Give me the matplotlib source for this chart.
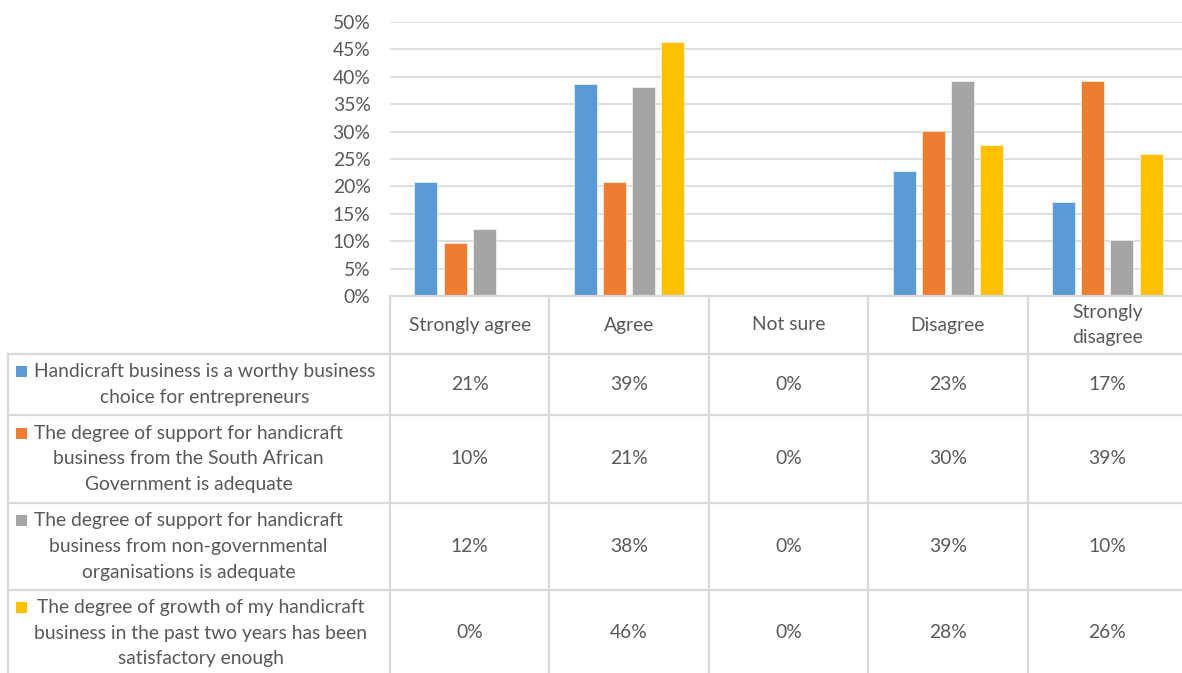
import numpy as np
import matplotlib
matplotlib.use("Agg")
import matplotlib.pyplot as plt
from matplotlib.patches import Rectangle

# ── data ────────────────────────────────────────────────────────────────────
categories = ["Strongly agree", "Agree", "Not sure", "Disagree", "Strongly\ndisagree"]
series_labels = [
    "Handicraft business is a worthy business\nchoice for entrepreneurs",
    "The degree of support for handicraft\nbusiness from the South African\nGovernment is adequate",
    "The degree of support for handicraft\nbusiness from non-governmental\norganisations is adequate",
    "The degree of growth of my handicraft\nbusiness in the past two years has been\nsatisfactory enough",
]
worthy_choice = [20.8, 38.7, 0.0, 22.9, 17.2]
support_government = [9.7, 20.8, 0.0, 30.1, 39.2]
support_ngo = [12.2, 38.2, 0.0, 39.2, 10.2]
growth_satisfactory = [0.0, 46.4, 0.0, 27.6, 26.0]
series = [worthy_choice, support_government, support_ngo, growth_satisfactory]
colors = ["#5b9bd5", "#ed7d31", "#a5a5a5", "#ffc000"]
yticks = np.arange(0, 51, 5)

plt.rcParams["font.family"] = ["Lato", "DejaVu Sans"]
TXT = "#595959"
LINE = "#d9d9d9"
FS = 13.9
LS = 1.62

W, H = 1182, 673
fig = plt.figure(figsize=(W / 100, H / 100), dpi=100)

# table geometry (pixels)
plot_l, plot_r, plot_t, plot_b = 390, 1187, 22, 296
tab_l = 8
row_edges = [354, 415, 503, 590, 700]

# overlay axes in pixel coordinates for the data table
tab = fig.add_axes([0, 0, 1, 1], zorder=0)
tab.set_xlim(0, W)
tab.set_ylim(H, 0)
tab.axis("off")

# bar chart
ax = fig.add_axes([plot_l / W, (H - plot_b) / H,
                   (plot_r - plot_l) / W, (plot_b - plot_t) / H], zorder=1)
ax.patch.set_alpha(0)
n = len(categories)
x = np.arange(n)
bw, step = 0.144, 0.183
for i, (vals, c) in enumerate(zip(series, colors)):
    ax.bar(x + (i - 1.5) * step, vals, width=bw, color=c,
           edgecolor="white", linewidth=0.4, zorder=3)

ax.set_xlim(-0.5, n - 0.5)
ax.set_ylim(0, 50)
ax.set_yticks(yticks)
ax.set_yticklabels([f"{v}%" for v in yticks], color=TXT, fontsize=FS)
ax.tick_params(axis="y", length=0, pad=14)
ax.set_xticks([])
ax.grid(axis="y", color=LINE, linewidth=1.2, zorder=0)
for s in ["top", "right", "left"]:
    ax.spines[s].set_visible(False)
ax.spines["bottom"].set_color(LINE)
ax.spines["bottom"].set_linewidth(1.6)
ax.spines["bottom"].set_zorder(4)

# ── data table ──────────────────────────────────────────────────────────────
col_w = (plot_r - plot_l) / n
col_edges = [plot_l + k * col_w for k in range(n + 1)]
lw = 1.6
for xe in col_edges:
    tab.plot([xe, xe], [plot_b, row_edges[-1]], color=LINE, lw=lw)
tab.plot([tab_l, tab_l], [row_edges[0], row_edges[-1]], color=LINE, lw=lw)
for ye in row_edges[:-1]:
    tab.plot([tab_l, plot_r], [ye, ye], color=LINE, lw=lw)

# header
for k, cat in enumerate(categories):
    tab.text(col_edges[k] + col_w / 2, (plot_b + row_edges[0]) / 2, cat,
             ha="center", va="center", color=TXT, fontsize=FS, linespacing=LS)

# rows
line_px = 26
for r, (lab, vals, c) in enumerate(zip(series_labels, series, colors)):
    y0, y1 = row_edges[r], min(row_edges[r + 1], 676)
    yc = (y0 + y1) / 2
    nl = lab.count("\n") + 1
    tab.text(34, yc, lab, ha="left", va="center", multialignment="center",
             color=TXT, fontsize=FS, linespacing=LS)
    y_first = yc - (nl - 1) / 2 * line_px
    tab.add_patch(Rectangle((16, y_first - 5.5), 11, 11, color=c, lw=0))
    for k, v in enumerate(vals):
        tab.text(col_edges[k] + col_w / 2, yc, f"{v:.0f}%", ha="center",
                 va="center", color=TXT, fontsize=FS)

fig.savefig("out.png", dpi=100)
